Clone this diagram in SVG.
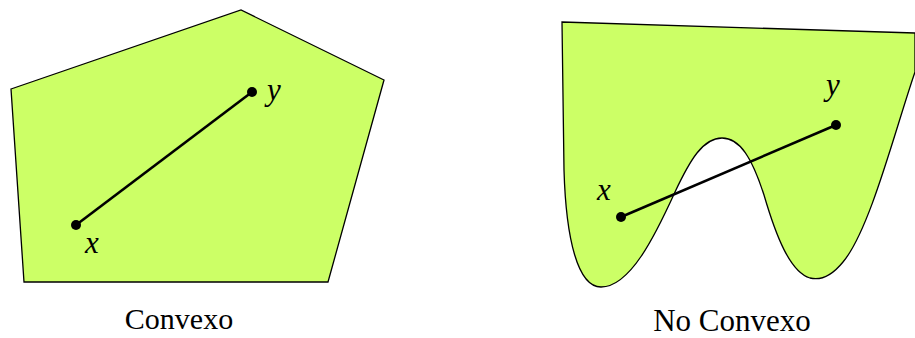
<svg xmlns="http://www.w3.org/2000/svg" width="915" height="338" viewBox="0 0 915 338">
<style>
.shape{fill:#ccff66;stroke:#000;stroke-width:1.3;stroke-linejoin:miter}
.seg{stroke:#000;stroke-width:2.6;fill:none}
.dot{fill:#000}
.lbl{font-family:"Liberation Serif","Times New Roman",serif;font-style:italic;font-size:31px;fill:#000}
.cap{font-family:"Liberation Serif","Times New Roman",serif;fill:#000;text-anchor:middle}
</style>
<g id="convex">
<polygon class="shape" points="11,89 241,10 384,80 328,282 24,282"/>
</g>
<g id="nonconvex">
<path class="shape" d="M562,22 L915,33 L915,72 C895,130 870,230 843,262 C830,278 818,280 810,278 C790,272 776,236 764,195 C752,158 740,138 722,138 C703,138 690,160 675,192 C655,236 630,287 601,287 C578,287 566,240 564,170 Z"/>
</g>
<g id="connectors">
<line class="seg" x1="76" y1="225" x2="252" y2="92"/>
<line class="seg" x1="621" y1="217" x2="836" y2="125"/>
</g>
<g id="points">
<circle class="dot" cx="76" cy="225" r="5"/>
<circle class="dot" cx="252" cy="92" r="5"/>
<circle class="dot" cx="621" cy="217" r="5"/>
<circle class="dot" cx="836" cy="125" r="5"/>
</g>
<g id="labels">
<text class="lbl" x="85" y="253">x</text>
<text class="lbl" x="267" y="100">y</text>
<text class="lbl" x="597" y="200">x</text>
<text class="lbl" x="826" y="95">y</text>
<text class="cap" x="179" y="329" font-size="30">Convexo</text>
<text class="cap" x="732" y="331" font-size="31">No Convexo</text>
</g>
</svg>
